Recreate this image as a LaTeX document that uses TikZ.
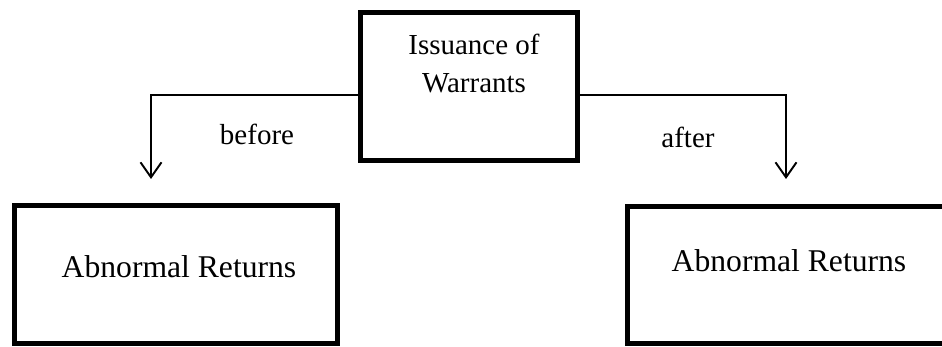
\documentclass[tikz,border=0pt]{standalone}
\usepackage{fontspec}
\setmainfont{Liberation Serif}
\usetikzlibrary{arrows.meta}

\tikzset{
  thickbox/.style={draw, line width=2.85pt, inner sep=0pt},
  conn/.style={line width=1.1pt, -{Straight Barb[length=0.3cm,width=0.42cm]}},
  txt/.style={anchor=base, inner sep=0pt, font=\fontsize{16.5}{19}\selectfont},
  bigtxt/.style={anchor=base, inner sep=0pt, font=\fontsize{18}{21}\selectfont}
}

\begin{document}
\begin{tikzpicture}
\clip (0,0) rectangle (18.84,-6.94);
\node[thickbox, minimum width=4.34cm, minimum height=2.96cm] (iss) at (9.38,-1.73) {};
\node[txt] (iss1) at (9.48,-1.1) {Issuance of};
\node[txt] (iss2) at (9.48,-1.86) {Warrants};
\node[thickbox, minimum width=6.46cm, minimum height=2.76cm] (ab1) at (3.52,-5.49) {};
\node[bigtxt] (ab1t) at (3.58,-5.56) {Abnormal Returns};
\node[thickbox, minimum width=6.46cm, minimum height=2.74cm] (ab2) at (15.78,-5.5) {};
\node[bigtxt] (ab2t) at (15.78,-5.44) {Abnormal Returns};
\node[txt] (bef) at (5.14,-2.9) {before};
\node[txt] (aft) at (13.76,-2.96) {after};
\coordinate (tip1) at (3.02,-3.58);
\coordinate (tip2) at (15.72,-3.58);
\draw[conn] ([yshift=-0.17cm]iss.west) -| (tip1);
\draw[conn] ([yshift=-0.17cm]iss.east) -| (tip2);
\end{tikzpicture}
\end{document}
